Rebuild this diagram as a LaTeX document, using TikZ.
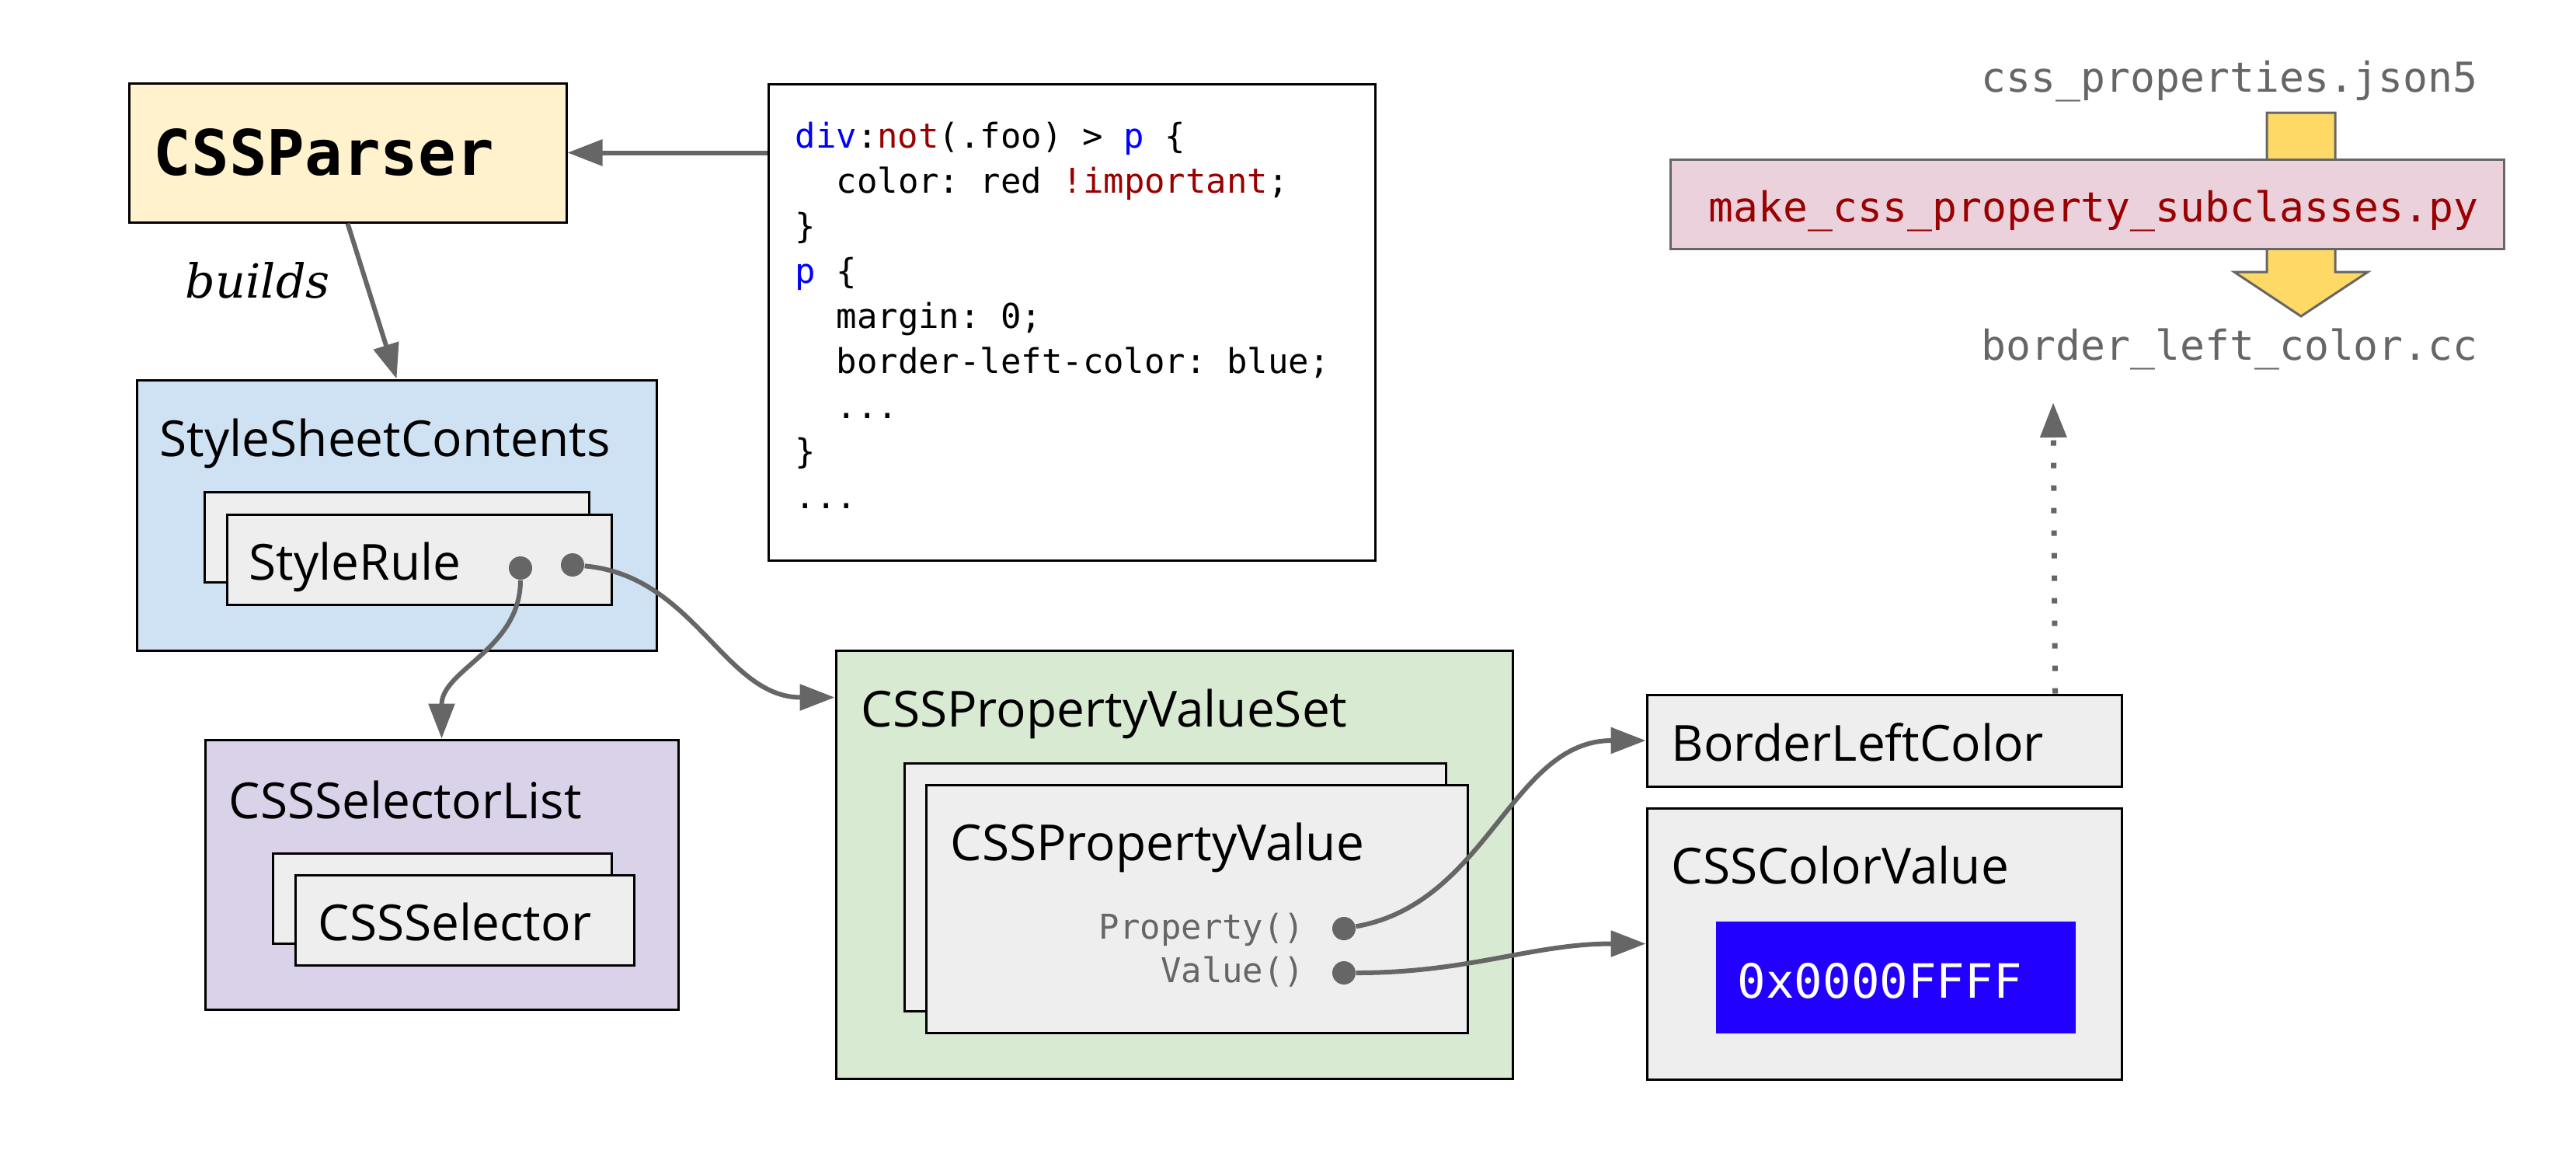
\documentclass[tikz,border=0pt]{standalone}
\usepackage{fontspec}
\setsansfont{Open Sans}
\setmonofont{DejaVu Sans Mono}
\newfontfamily\buildsfont{DejaVu Serif}
\usetikzlibrary{arrows.meta,calc}

\definecolor{parserfill}{HTML}{FFF2CC}
\definecolor{sheetfill}{HTML}{CFE2F3}
\definecolor{selfill}{HTML}{D9D2E9}
\definecolor{setfill}{HTML}{D9EAD3}
\definecolor{itemfill}{HTML}{EEEEEE}
\definecolor{genfill}{HTML}{EAD1DC}
\definecolor{arrowyellow}{HTML}{FFD966}
\definecolor{linegray}{HTML}{666666}
\definecolor{codeblue}{HTML}{0000FF}
\definecolor{codered}{HTML}{990000}
\definecolor{hexblue}{HTML}{2200FF}

\begin{document}
\begin{tikzpicture}[
    objbox/.style={draw=black, line width=0.03cm, inner sep=0pt},
    parserbox/.style={objbox, fill=parserfill, minimum width=5.63cm, minimum height=1.79cm},
    codebox/.style={objbox, fill=white, minimum width=7.81cm, minimum height=6.13cm},
    sheetbox/.style={objbox, fill=sheetfill, minimum width=6.69cm, minimum height=3.48cm},
    selbox/.style={objbox, fill=selfill, minimum width=6.09cm, minimum height=3.47cm},
    setbox/.style={objbox, fill=setfill, minimum width=8.71cm, minimum height=5.51cm},
    rulebox/.style={objbox, fill=itemfill, minimum width=4.95cm, minimum height=1.16cm},
    valbox/.style={objbox, fill=itemfill, minimum width=6.97cm, minimum height=3.19cm},
    sidebox/.style={objbox, fill=itemfill, minimum width=6.11cm},
    hexbox/.style={fill=hexblue, inner sep=0pt, minimum width=4.63cm, minimum height=1.44cm},
    genbox/.style={draw=linegray, line width=0.03cm, fill=genfill, inner sep=0pt, minimum width=10.73cm, minimum height=1.15cm},
    title/.style={anchor=base west, inner sep=0pt, font=\sffamily\fontsize{18.2}{22}\selectfont},
    codetext/.style={anchor=base west, inner sep=0pt, font=\ttfamily\fontsize{12.5}{15}\selectfont},
    filetext/.style={anchor=base west, inner sep=0pt, text=linegray, font=\ttfamily\fontsize{15.1}{18}\selectfont},
    dot/.style={circle, fill=linegray, inner sep=0pt, minimum size=0.30cm},
    conn/.style={draw=linegray, line width=0.06cm, -{Triangle[length=0.45cm, width=0.33cm]}},
    dotconn/.style={conn, line width=0.07cm, dash pattern=on 0.07cm off 0.22cm}
]

\useasboundingbox (0,0) rectangle (33.16,-14.88);

% -------------------------------------------------
% PARSER AND SOURCE
% -------------------------------------------------
\node[parserbox] (parser) at (4.475,-1.965) {};
\node[anchor=base west, inner sep=0pt, font=\ttfamily\bfseries\fontsize{23}{27}\selectfont] (parsername) at (1.97,-2.25) {CSSParser};
\node[anchor=base west, inner sep=0pt, font=\buildsfont\itshape\fontsize{17.2}{21}\selectfont] (builds) at (2.38,-3.83) {builds};

\node[codebox] (code) at (13.795,-4.145) {};
\node[codetext] (c1) at (10.23,-1.90) {\textcolor{codeblue}{div}:\textcolor{codered}{not}(.foo) > \textcolor{codeblue}{p} \{};
\node[codetext] (c2) at (10.76,-2.48) {color: red \textcolor{codered}{!important};};
\node[codetext] (c3) at (10.23,-3.06) {\}};
\node[codetext] (c4) at (10.23,-3.64) {\textcolor{codeblue}{p} \{};
\node[codetext] (c5) at (10.76,-4.22) {margin: 0;};
\node[codetext] (c6) at (10.76,-4.80) {border-left-color: blue;};
\node[codetext] (c7) at (10.76,-5.38) {...};
\node[codetext] (c8) at (10.23,-5.96) {\}};
\node[codetext] (c9) at (10.23,-6.54) {...};

\draw[conn] (code.west |- parser.east) -- (parser.east);

% -------------------------------------------------
% STYLESHEET SIDE
% -------------------------------------------------
\node[sheetbox] (sheet) at (5.105,-6.63) {};
\node[title] (sheetname) at (2.05,-5.87) {StyleSheetContents};
\node[rulebox] (ruleback) at (5.11,-6.91) {};
\node[rulebox] (rule) at (5.395,-7.205) {};
\node[title] (rulename) at (3.20,-7.46) {StyleRule};
\node[dot] (ruledotA) at (6.70,-7.31) {};
\node[dot] (ruledotB) at (7.37,-7.27) {};

\draw[conn] (parser.south) -- (sheet.north);

\node[selbox] (sellist) at (5.685,-11.255) {};
\node[title] (sellistname) at (2.94,-10.53) {CSSSelectorList};
\node[selbox, fill=itemfill, minimum width=4.36cm, minimum height=1.16cm] (selback) at (5.69,-11.56) {};
\node[selbox, fill=itemfill, minimum width=4.36cm, minimum height=1.16cm] (sel) at (5.98,-11.845) {};
\node[title] (selname) at (4.09,-12.10) {CSSSelector};

\draw[conn] (ruledotA) to[out=-90, in=90] (sellist.north);

% -------------------------------------------------
% PROPERTY VALUES
% -------------------------------------------------
\node[setbox] (pset) at (15.115,-11.125) {};
\node[title] (psetname) at (11.08,-9.35) {CSSPropertyValueSet};
\node[valbox] (pvalback) at (15.125,-11.415) {};
\node[valbox] (pval) at (15.405,-11.70) {};
\node[title] (pvalname) at (12.23,-11.07) {CSSPropertyValue};
\node[codetext, anchor=base east, text=linegray] (propfn) at (16.80,-12.08) {Property()};
\node[codetext, anchor=base east, text=linegray] (valfn) at (16.80,-12.64) {Value()};
\node[dot] (propdot) at (17.30,-11.95) {};
\node[dot] (valdot) at (17.30,-12.52) {};

\draw[conn] (ruledotB) to[out=-5, in=180] ($(pset.north west)+(0,-0.62)$);

% -------------------------------------------------
% RESULT OBJECTS
% -------------------------------------------------
\node[sidebox, minimum height=1.18cm] (blc) at (24.255,-9.53) {};
\node[title] (blcname) at (21.51,-9.79) {BorderLeftColor};
\node[sidebox, minimum height=3.49cm] (ccv) at (24.255,-12.145) {};
\node[title] (ccvname) at (21.51,-11.37) {CSSColorValue};
\node[hexbox] (hex) at (24.405,-12.58) {};
\node[anchor=base west, inner sep=0pt, text=white, font=\ttfamily\fontsize{17.3}{20}\selectfont] (hexval) at (22.36,-12.84) {0x0000FFFF};

\draw[conn] (propdot) to[out=10, in=180] (blc.west);
\draw[conn] (valdot) to[out=0, in=180] (ccv.west);

% -------------------------------------------------
% GENERATOR
% -------------------------------------------------
\draw[fill=arrowyellow, draw=linegray, line width=0.03cm]
    (29.18,-1.45) -- (30.06,-1.45) -- (30.06,-3.50) -- (30.48,-3.50)
    -- (29.62,-4.07) -- (28.76,-3.50) -- (29.18,-3.50) -- cycle;
\node[genbox] (gen) at (26.865,-2.625) {};
\node[filetext, text=codered] (genname) at (21.99,-2.85) {make\_css\_property\_subclasses.py};
\node[filetext] (jsonfile) at (25.50,-1.18) {css\_properties.json5};
\node[filetext] (ccfile) at (25.50,-4.63) {border\_left\_color.cc};

\coordinate (cctip) at (26.43,-5.18);
\draw[dotconn] ($(blc.north east)+(-0.87,0)$) -- (cctip);

\end{tikzpicture}
\end{document}
